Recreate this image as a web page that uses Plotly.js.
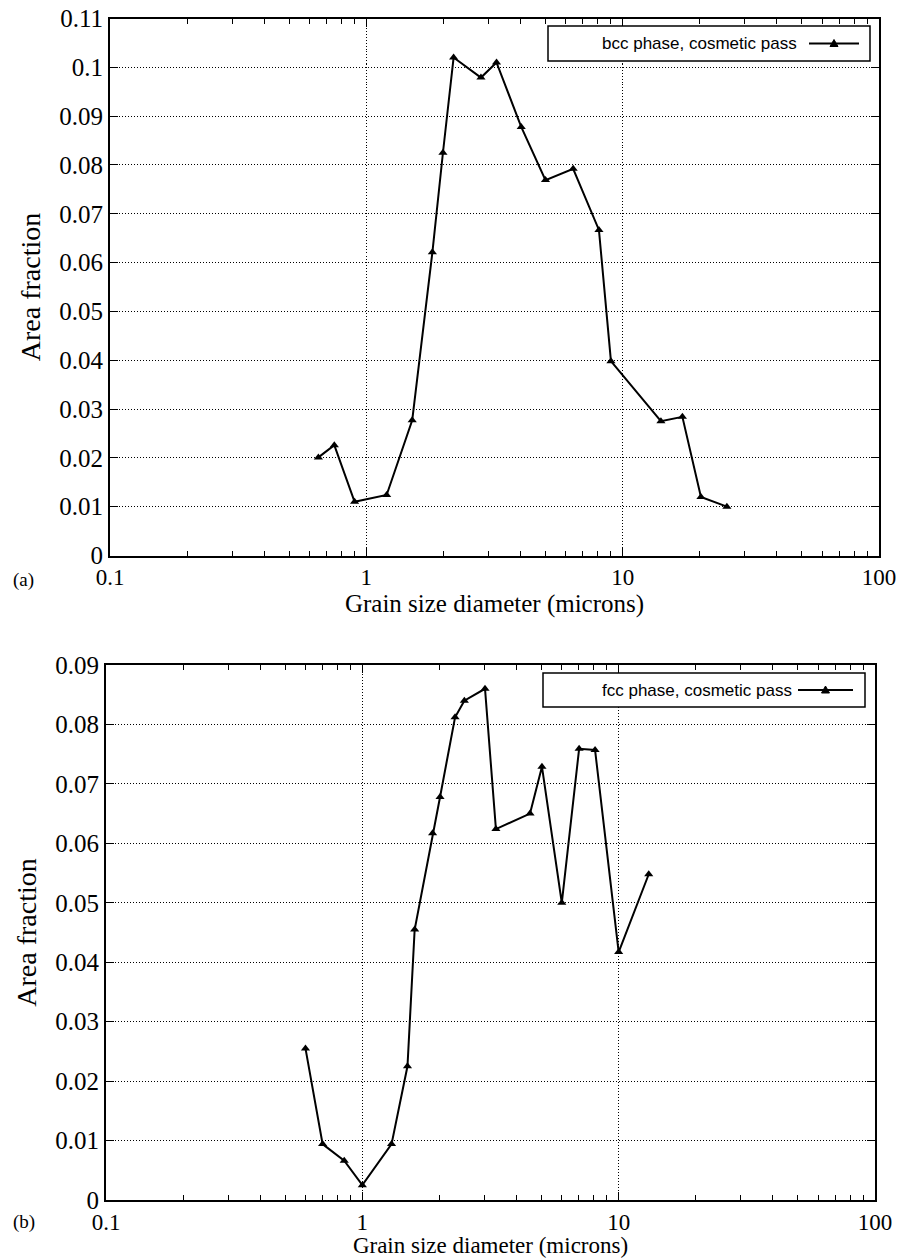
<!DOCTYPE html>
<html>
<head>
<meta charset="utf-8">
<script src="https://cdn.plot.ly/plotly-3.0.1.min.js"></script>
<style>html,body{margin:0;padding:0;background:#fff;}#chart{width:906px;height:1258px;}</style>
</head>
<body>
<div id="chart"></div>
<script>
// ---- data ----
const bccDiameter = [0.65, 0.75, 0.90, 1.20, 1.51, 1.81, 1.99, 2.19, 2.80, 3.22, 4.02, 5.00, 6.41, 8.08, 9.00, 14.1, 17.1, 20.2, 25.5];
const bccFraction = [0.0201, 0.0226, 0.0110, 0.0124, 0.0277, 0.0621, 0.0825, 0.1020, 0.0979, 0.1010, 0.0878, 0.0769, 0.0792, 0.0667, 0.0398, 0.0275, 0.0284, 0.0120, 0.0100];

const fccDiameter = [0.60, 0.70, 0.85, 1.00, 1.30, 1.50, 1.60, 1.88, 2.01, 2.30, 2.50, 3.01, 3.32, 4.51, 5.02, 6.00, 7.01, 8.09, 10.0, 13.1];
const fccFraction = [0.0255, 0.0094, 0.0066, 0.0025, 0.0094, 0.0225, 0.0455, 0.0617, 0.0678, 0.0812, 0.0840, 0.0860, 0.0624, 0.0650, 0.0729, 0.0500, 0.0759, 0.0757, 0.0417, 0.0548];

const xTickVals = [0.1, 1, 10, 100];
const xTickText = ["0.1", "1", "10", "100"];
const xMinorVals = [0.2,0.3,0.4,0.5,0.6,0.7,0.8,0.9,2,3,4,5,6,7,8,9,20,30,40,50,60,70,80,90];

const yTickValsA = [0, 0.01, 0.02, 0.03, 0.04, 0.05, 0.06, 0.07, 0.08, 0.09, 0.1, 0.11];
const yTickTextA = ["0", "0.01", "0.02", "0.03", "0.04", "0.05", "0.06", "0.07", "0.08", "0.09", "0.1", "0.11"];
const yTickValsB = [0, 0.01, 0.02, 0.03, 0.04, 0.05, 0.06, 0.07, 0.08, 0.09];
const yTickTextB = ["0", "0.01", "0.02", "0.03", "0.04", "0.05", "0.06", "0.07", "0.08", "0.09"];

const legendA = "bcc phase, cosmetic pass";
const legendB = "fcc phase, cosmetic pass";
const xTitle = "Grain size diameter (microns)";
const yTitle = "Area fraction";

// ---- layout helpers ----
const W = 906, H = 1258;
const fx = v => v / W;
const fy = v => 1 - v / H;
const serif = "Liberation Serif";
const sans = "Liberation Sans";

function xAxis(domain, anchor, titleSize) {
  return {
    type: 'log', range: [-1, 2], domain: domain, anchor: anchor,
    tickmode: 'array', tickvals: xTickVals, ticktext: xTickText,
    ticks: 'inside', ticklen: 8, tickwidth: 1, tickcolor: '#000',
    minor: {tickmode: 'array', tickvals: xMinorVals, ticks: 'inside', ticklen: 5, tickwidth: 1, tickcolor: '#000', showgrid: false},
    showline: true, linecolor: '#000', linewidth: 2, mirror: 'allticks',
    showgrid: true, gridcolor: '#000', gridwidth: 1, griddash: '1px,2px',
    zeroline: false,
    tickfont: {family: serif, size: 23, color: '#000'},
    title: {text: xTitle, font: {family: serif, size: titleSize, color: '#000'}, standoff: 2},
    automargin: false
  };
}
function yAxis(domain, anchor, range, vals, text) {
  return {
    range: range, domain: domain, anchor: anchor,
    tickmode: 'array', tickvals: vals, ticktext: text,
    ticks: 'inside', ticklen: 8, tickwidth: 1, tickcolor: '#000',
    showline: true, linecolor: '#000', linewidth: 2, mirror: 'allticks',
    showgrid: true, gridcolor: '#000', gridwidth: 1, griddash: '1px,2px',
    zeroline: false,
    tickfont: {family: serif, size: 25, color: '#000'},
    title: {text: yTitle, font: {family: serif, size: 28, color: '#000'}, standoff: 10},
    automargin: false
  };
}

const lineStyle = {color: '#000', width: 2};
const markerStyle = {symbol: 'triangle-up', size: 8, color: '#000'};

const traces = [
  {x: bccDiameter, y: bccFraction, xaxis: 'x', yaxis: 'y', type: 'scatter', mode: 'lines+markers',
   name: legendA, line: lineStyle, marker: markerStyle, showlegend: false},
  {x: fccDiameter, y: fccFraction, xaxis: 'x2', yaxis: 'y2', type: 'scatter', mode: 'lines+markers',
   name: legendB, line: lineStyle, marker: markerStyle, showlegend: false}
];

// legend boxes (drawn manually to keep text-then-sample order)
function legendParts(box, textRight, lineX0, lineX1, label) {
  const yc = (box[1] + box[3]) / 2;
  const shapes = [
    {type: 'rect', xref: 'paper', yref: 'paper', x0: fx(box[0]), x1: fx(box[2]), y0: fy(box[3]), y1: fy(box[1]),
     line: {color: '#000', width: 1.5}, fillcolor: '#fff', layer: 'above'},
    {type: 'line', xref: 'paper', yref: 'paper', x0: fx(lineX0), x1: fx(lineX1), y0: fy(yc), y1: fy(yc),
     line: {color: '#000', width: 2}, layer: 'above'},
    {type: 'path', xref: 'paper', yref: 'paper', layer: 'above', fillcolor: '#000', line: {color: '#000', width: 1},
     path: 'M ' + fx((lineX0 + lineX1) / 2 - 4) + ' ' + fy(yc + 3) + ' L ' + fx((lineX0 + lineX1) / 2 + 4) + ' ' + fy(yc + 3) +
           ' L ' + fx((lineX0 + lineX1) / 2) + ' ' + fy(yc - 4) + ' Z'}
  ];
  const ann = {xref: 'paper', yref: 'paper', x: fx(textRight), y: fy(yc), xanchor: 'right', yanchor: 'middle',
    text: label, showarrow: false, font: {family: sans, size: 17, color: '#000'}};
  return {shapes: shapes, ann: ann};
}
const legA = legendParts([548, 26, 870, 61], 799, 809, 859, legendA);
const legB = legendParts([543, 673, 865, 707], 794, 798, 853, legendB);

const layout = {
  width: W, height: H,
  margin: {l: 0, r: 0, t: 0, b: 0},
  paper_bgcolor: '#fff', plot_bgcolor: '#fff',
  showlegend: false,
  font: {family: serif, color: '#000'},
  xaxis: xAxis([fx(110), fx(879)], 'y', 25),
  yaxis: yAxis([fy(555.5), fy(18.5)], 'x', [0, 0.11], yTickValsA, yTickTextA),
  xaxis2: xAxis([fx(106), fx(875)], 'y2', 23),
  yaxis2: yAxis([fy(1200), fy(665)], 'x2', [0, 0.09], yTickValsB, yTickTextB),
  shapes: legA.shapes.concat(legB.shapes),
  annotations: [
    legA.ann, legB.ann,
    {xref: 'paper', yref: 'paper', x: fx(11), y: fy(580), xanchor: 'left', yanchor: 'middle', text: '(a)', showarrow: false,
     font: {family: serif, size: 19, color: '#000'}},
    {xref: 'paper', yref: 'paper', x: fx(11), y: fy(1222), xanchor: 'left', yanchor: 'middle', text: '(b)', showarrow: false,
     font: {family: serif, size: 19, color: '#000'}}
  ]
};

Plotly.newPlot('chart', traces, layout, {staticPlot: true, displayModeBar: false});
</script>
</body>
</html>
